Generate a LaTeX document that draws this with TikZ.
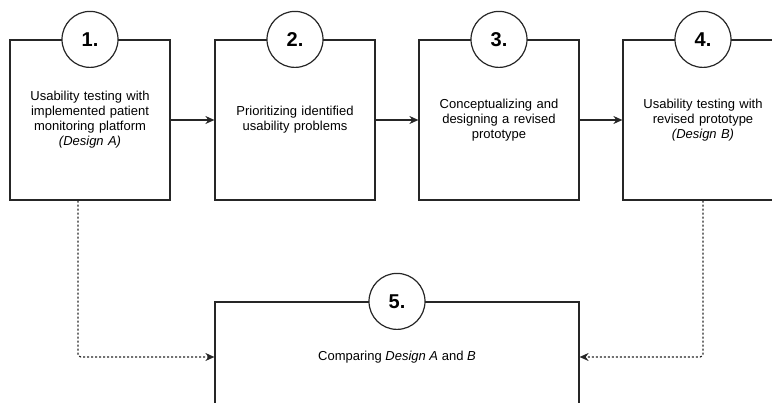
\documentclass[tikz,border=0pt]{standalone}
\usepackage{fontspec}
\setmainfont{Liberation Sans}
\usetikzlibrary{arrows.meta,
                calc,
                positioning}

\tikzset{
  stepbox/.style={draw=black!85, line width=1.2pt, minimum width=160pt,
                  minimum height=160pt, align=center, text width=150pt,
                  font=\fontsize{13}{15}\selectfont},
  numcircle/.style={draw=black!85, line width=1.2pt, circle, fill=white,
                    minimum size=56pt, inner sep=0pt,
                    font=\fontsize{20}{20}\selectfont\bfseries},
  flow/.style={draw=black!85, line width=1.2pt, -{Stealth[length=9pt,width=8pt]}},
  dotflow/.style={flow, dash pattern=on 2pt off 2pt, rounded corners=3pt}
}

\begin{document}
\begin{tikzpicture}[x=1pt,y=-1pt]
\useasboundingbox (0,0) rectangle (772,403);
\clip (0,0) rectangle (772,403);

% the four steps in a row
\foreach \n/\x/\txt in {1/90/{Usability testing with\\implemented patient\\monitoring platform\\\textit{(Design A)}},
                        2/295/{Prioritizing identified\\usability problems},
                        3/499/{Conceptualizing and\\designing a revised\\prototype},
                        4/703/{Usability testing with\\revised prototype\\\textit{(Design B)}}}
{
  \node[stepbox] (box\n) at (\x,120) {\txt};
  \node[numcircle] (num\n) at (box\n.north) {\n.};
}

\foreach \a/\b in {1/2,2/3,3/4}
  \draw[flow] (box\a.east) -- (box\b.west);

% comparison step
\node[stepbox, minimum width=364pt, text width=] (box5) at (397,382) {};
\node[numcircle] (num5) at (box5.north) {5.};
\node[font=\fontsize{13}{15}\selectfont] (cmp) at (397,357) {Comparing \textit{Design A} and \textit{B}};

\draw[dotflow] ([xshift=-12pt]box1.south) |- (box5.west |- cmp);
\draw[dotflow] (box4.south) |- (box5.east |- cmp);
\end{tikzpicture}
\end{document}
